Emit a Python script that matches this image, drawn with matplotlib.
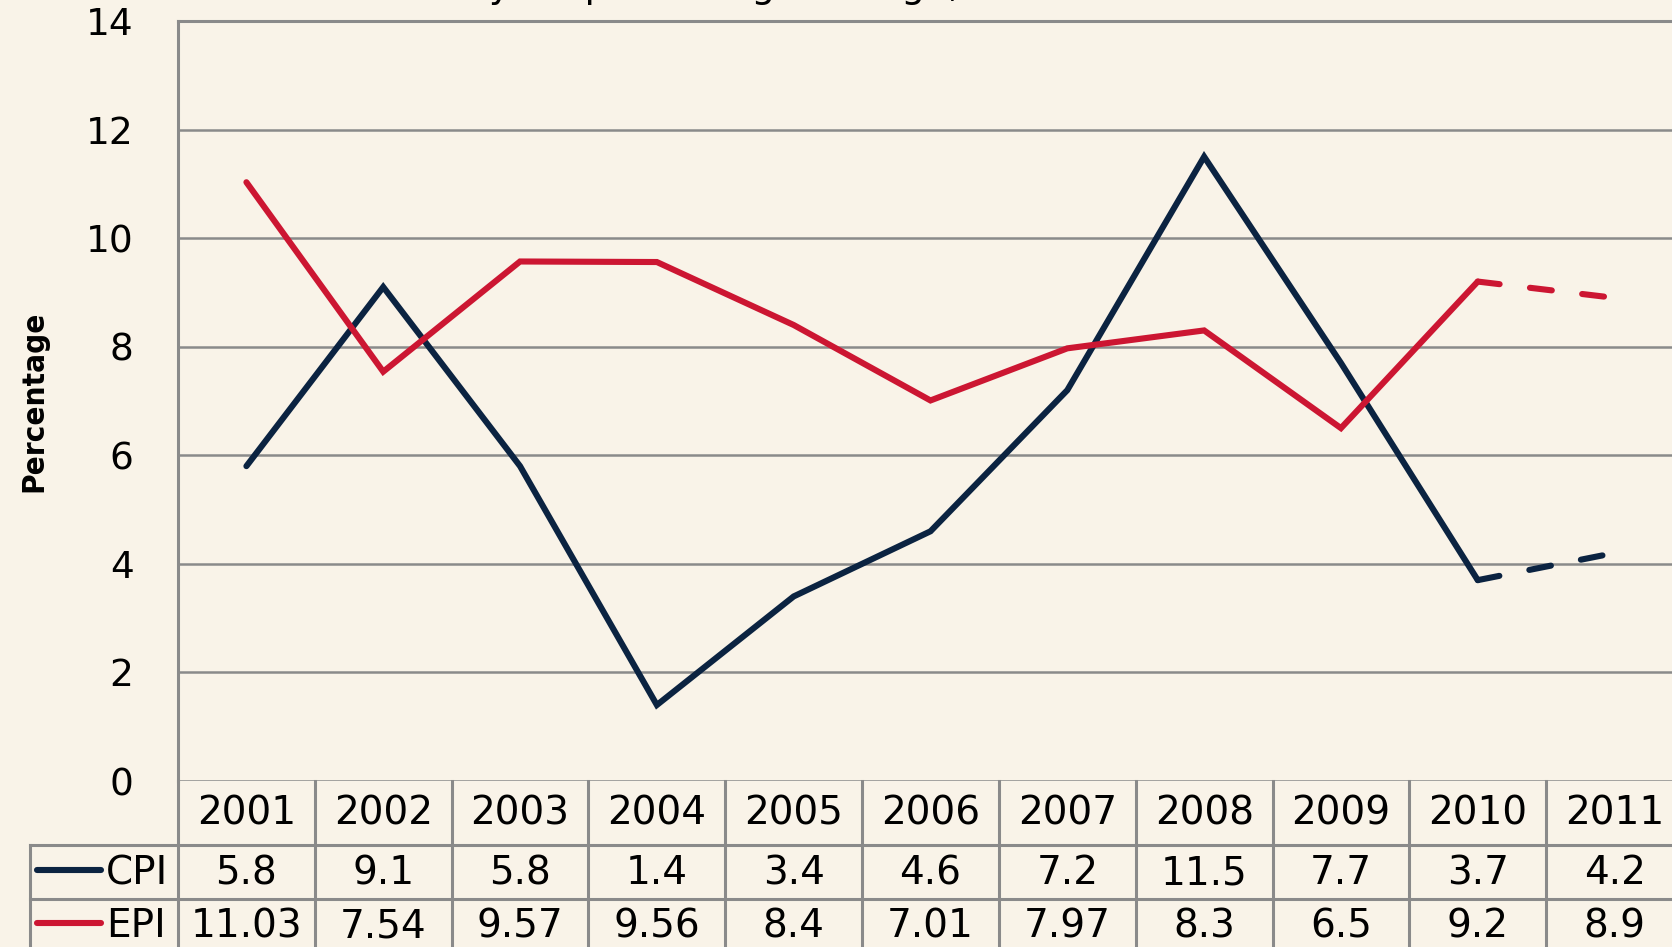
import matplotlib.pyplot as plt
from matplotlib import font_manager

years = ['2001', '2002', '2003', '2004', '2005', '2006', '2007', '2008', '2009', '2010', '2011']
cpi = [5.8, 9.1, 5.8, 1.4, 3.4, 4.6, 7.2, 11.5, 7.7, 3.7, 4.2]
epi = [11.03, 7.54, 9.57, 9.56, 8.4, 7.01, 7.97, 8.3, 6.5, 9.2, 8.9]
epi_labels = ['11.03', '7.54', '9.57', '9.56', '8.4', '7.01', '7.97', '8.3', '6.5', '9.2', '8.9']
series_names = ['CPI', 'EPI']
title = 'CPI and EPI inflation rate: year percentage change, 2001\u20132011'

BG = '#f9f3e8'
NAVY = '#0b2341'
RED = '#cc1632'
GRID = '#8a8a8a'

W, H = 1672, 947
fig = plt.figure(figsize=(W / 100, H / 100), dpi=100, facecolor=BG)

left, right, top, bottom = 178, 1683, 21, 781
ax = fig.add_axes([left / W, 1 - bottom / H, (right - left) / W, (bottom - top) / H])
ax.set_facecolor(BG)
x = list(range(len(years)))

for vals, col in [(cpi, NAVY), (epi, RED)]:
    ax.plot(x[:10], vals[:10], color=col, lw=4.4, solid_capstyle='round', solid_joinstyle='miter')
    ax.plot(x[9:], vals[9:], color=col, lw=4.4, dashes=(3.6, 5), dash_capstyle='round')

ax.set_xlim(-0.5, 10.5)
ax.set_ylim(0, 14)
ax.set_yticks(range(0, 15, 2))
ax.set_xticks([])
ax.tick_params(axis='y', length=0, pad=32, labelsize=27)
ax.yaxis.grid(True, color=GRID, lw=1.8)
ax.set_axisbelow(True)
for s in ['right', 'bottom']:
    ax.spines[s].set_visible(False)
for s in ['left', 'top']:
    ax.spines[s].set_color(GRID)
    ax.spines[s].set_linewidth(2.2)

# narrow bold face for the axis label if one is installed
fonts = font_manager.fontManager.ttflist
if any(f.name == 'DejaVu Sans' and f.stretch == 'condensed' and f.weight in (700, 'bold') for f in fonts):
    ylab_kw = dict(family='DejaVu Sans', stretch='condensed', fontsize=22.5)
else:
    ylab_kw = dict(fontsize=20)
ax.set_ylabel('Percentage', fontweight='bold', **ylab_kw)
ax.yaxis.set_label_coords(-(left - 48) / (right - left), 0.5)

# data table below the plot
tbl_bottom = 953
tax = fig.add_axes([left / W, 1 - tbl_bottom / H, (right - left) / W, (tbl_bottom - bottom) / H])
tax.set_facecolor(BG)
tax.set_xlim(-0.5, 10.5)
tax.set_ylim(tbl_bottom - bottom, 0)
tax.axis('off')
col_px = (right - left) / 11
label_left = -0.5 - (left - 30) / col_px

for y in [64, 118]:
    tax.plot([label_left, 10.5], [y, y], color=GRID, lw=2.2, clip_on=False)
tax.plot([label_left, label_left], [64, 172], color=GRID, lw=2.2, clip_on=False)
for i in range(12):
    tax.plot([i - 0.5, i - 0.5], [0, 172], color=GRID, lw=2.2, clip_on=False)

for i, yr in enumerate(years):
    tax.text(i, 32, yr, ha='center', va='center', fontsize=28)
    tax.text(i, 92, f'{cpi[i]:g}', ha='center', va='center', fontsize=28)
    tax.text(i, 145, epi_labels[i], ha='center', va='center', fontsize=28)

for name, col, yc in [(series_names[0], NAVY, 89), (series_names[1], RED, 142)]:
    x0 = -0.5 - (left - 37) / col_px
    x1 = -0.5 - (left - 101) / col_px
    tax.plot([x0, x1], [yc, yc], color=col, lw=4.4, solid_capstyle='round', clip_on=False)
    tax.text(-0.5 - (left - 106) / col_px, yc + 3, name, ha='left', va='center', fontsize=28)

# title sits mostly above the canvas, only descenders show
fig.canvas.draw()
r = fig.canvas.get_renderer()
probe = fig.text(0, 0, title[:title.index('year') + 1], fontsize=27)
yw = fig.text(0, 0, 'y', fontsize=27)
pre_w = probe.get_window_extent(r).width - yw.get_window_extent(r).width / 2
probe.remove()
yw.remove()
fig.text((500 - pre_w) / W, 1 + 3 / H, title, fontsize=27, ha='left', va='baseline')

fig.savefig('out.png', dpi=100, facecolor=BG)
